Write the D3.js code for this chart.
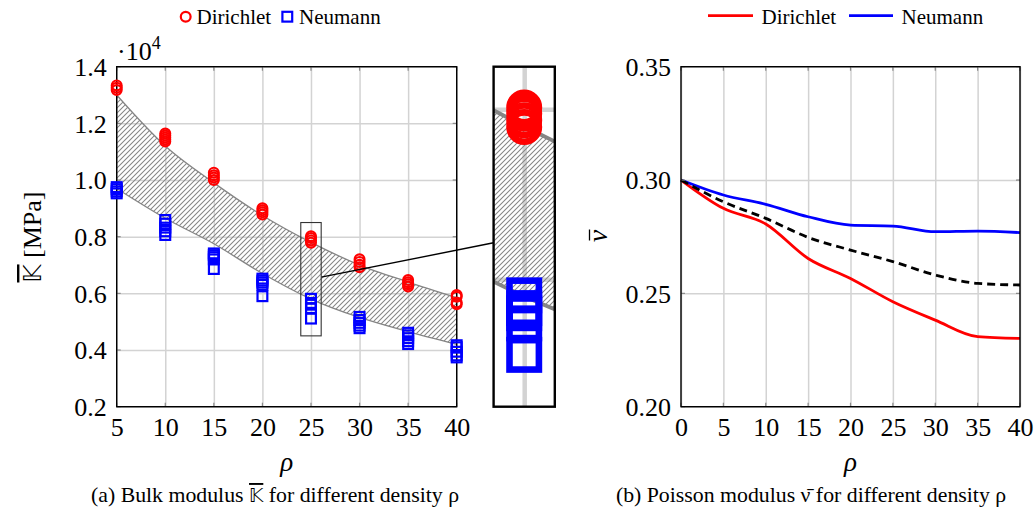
<!DOCTYPE html>
<html>
<head>
<meta charset="utf-8">
<script src="https://cdn.jsdelivr.net/npm/d3@7"></script>
<style>
  body { margin: 0; background: #fff; }
  svg { display: block; }
  text { font-family: "Liberation Serif", "Times New Roman", serif; fill: #000; }
</style>
</head>
<body>
<svg id="fig" width="1036" height="522"></svg>
<script>
// ---------- (a) bulk modulus data, values in units of 10^4 MPa ----------
const densities = [5, 10, 15, 20, 25, 30, 35, 40];
const dirichletK = [
  [1.334, 1.326, 1.318],
  [1.164, 1.157, 1.150, 1.143, 1.136],
  [1.026, 1.017, 1.009, 1.000],
  [0.900, 0.893, 0.886, 0.878],
  [0.802, 0.795, 0.787, 0.779],
  [0.720, 0.711, 0.701, 0.692],
  [0.647, 0.639, 0.632, 0.624],
  [0.594, 0.588, 0.568, 0.562]
];
const neumannK = [
  [0.975, 0.968, 0.960, 0.953],
  [0.859, 0.846, 0.832, 0.819, 0.806],
  [0.741, 0.735, 0.728, 0.720, 0.686],
  [0.652, 0.645, 0.638, 0.630, 0.590],
  [0.581, 0.566, 0.560, 0.548, 0.511],
  [0.517, 0.506, 0.496, 0.486, 0.477],
  [0.461, 0.452, 0.442, 0.431, 0.421],
  [0.417, 0.410, 0.394, 0.381, 0.374]
];
const boundUpper = [1.300, 1.120, 0.990, 0.875, 0.780, 0.700, 0.640, 0.585];
const boundLower = [0.970, 0.865, 0.775, 0.670, 0.580, 0.515, 0.465, 0.420];
const kTicks = [0.2, 0.4, 0.6, 0.8, 1.0, 1.2, 1.4];
const rhoTicksA = [5, 10, 15, 20, 25, 30, 35, 40];
// zoomed window (density range, modulus range)
const spyRho = [23.95, 26.05];
const spyK = [0.45, 0.85];
const spyZoom = 3;

// ---------- (b) Poisson ratio data ----------
const rhoNu = [0, 5, 10, 15, 20, 25, 30, 35, 40];
const nuDirichlet = [0.300, 0.2875, 0.2806, 0.2654, 0.2566, 0.2463, 0.2382, 0.2309, 0.2301];
const nuNeumann   = [0.300, 0.2934, 0.2893, 0.2838, 0.2801, 0.2797, 0.2772, 0.2775, 0.2768];
const nuMean      = [0.300, 0.2904, 0.2831, 0.2747, 0.2691, 0.2640, 0.2581, 0.2544, 0.2537];
const nuTicks = [0.20, 0.25, 0.30, 0.35];
const rhoTicksB = [0, 5, 10, 15, 20, 25, 30, 35, 40];

const RED = "#ff0000", BLUE = "#0000ff", GRID = "#d3d3d3", BANDLINE = "#858585";
const tickFont = 26, legendFont = 21;
const MW = 2.2;          // marker stroke width
const CR = 4.9;          // circle marker radius
const SQ = 9.8;          // square marker side

const svg = d3.select("#fig");
const defs = svg.append("defs");

// hatch pattern for the bounds band
const pat = defs.append("pattern").attr("id", "hatch")
  .attr("patternUnits", "userSpaceOnUse").attr("width", 5).attr("height", 5);
pat.append("path").attr("d", "M-1,1 l2,-2 M0,5 l5,-5 M4,6 l2,-2")
  .attr("stroke", BANDLINE).attr("stroke-width", 1.05);

// ---------- helpers ----------
function drawGrid(g, x, y, xt, yt, w) {
  const [x0, x1] = x.range(), [y0, y1] = y.range();
  g.append("g").attr("transform", `translate(0,${y0})`)
    .call(d3.axisBottom(x).tickValues(xt).tickSize(-(y0 - y1)).tickFormat(""))
    .call(a => a.select(".domain").remove())
    .call(a => a.selectAll("line").attr("stroke", GRID).attr("stroke-width", w));
  g.append("g").attr("transform", `translate(${x0},0)`)
    .call(d3.axisLeft(y).tickValues(yt).tickSize(-(x1 - x0)).tickFormat(""))
    .call(a => a.select(".domain").remove())
    .call(a => a.selectAll("line").attr("stroke", GRID).attr("stroke-width", w));
}

function drawFrame(g, x, y, xt, yt, xfmt, yfmt) {
  const [x0, x1] = x.range(), [y0, y1] = y.range();
  // inner tick marks on all four sides
  const tk = g.append("g").attr("stroke", "#8a8a8a").attr("stroke-width", 1.2);
  xt.forEach(v => {
    tk.append("line").attr("x1", x(v)).attr("x2", x(v)).attr("y1", y0).attr("y2", y0 - 4);
    tk.append("line").attr("x1", x(v)).attr("x2", x(v)).attr("y1", y1).attr("y2", y1 + 4);
  });
  yt.forEach(v => {
    tk.append("line").attr("y1", y(v)).attr("y2", y(v)).attr("x1", x0).attr("x2", x0 + 4);
    tk.append("line").attr("y1", y(v)).attr("y2", y(v)).attr("x1", x1).attr("x2", x1 - 4);
  });
  g.append("rect").attr("x", x0).attr("y", y1).attr("width", x1 - x0).attr("height", y0 - y1)
    .attr("fill", "none").attr("stroke", "#000").attr("stroke-width", 1.4);
  // labels
  g.append("g").attr("transform", `translate(0,${y0})`)
    .call(d3.axisBottom(x).tickValues(xt).tickSize(0).tickPadding(10).tickFormat(xfmt))
    .call(a => a.select(".domain").remove())
    .call(a => a.selectAll("text").attr("font-size", tickFont).attr("dy", "0.75em")
      .style("font-family", "'Liberation Serif', serif"));
  g.append("g").attr("transform", `translate(${x0},0)`)
    .call(d3.axisLeft(y).tickValues(yt).tickSize(0).tickPadding(10).tickFormat(yfmt))
    .call(a => a.select(".domain").remove())
    .call(a => a.selectAll("text").attr("font-size", tickFont).attr("dy", "0.34em")
      .style("font-family", "'Liberation Serif', serif"));
}

function drawBand(g, x, y, lw) {
  const pts = densities.map((d, i) => ({ d, lo: boundLower[i], hi: boundUpper[i] }));
  const curve = d3.curveMonotoneX;
  g.append("path").datum(pts)
    .attr("d", d3.area().x(p => x(p.d)).y0(p => y(p.lo)).y1(p => y(p.hi)).curve(curve))
    .attr("fill", "url(#hatch)");
  ["lo", "hi"].forEach(k => g.append("path").datum(pts)
    .attr("d", d3.line().x(p => x(p.d)).y(p => y(p[k])).curve(curve))
    .attr("fill", "none").attr("stroke", BANDLINE).attr("stroke-width", lw));
}

function drawMarkers(g, x, y, s) {
  densities.forEach((d, i) => {
    g.selectAll(null).data(neumannK[i]).join("rect")
      .attr("x", () => x(d) - SQ / 2 * s).attr("y", v => y(v) - SQ / 2 * s)
      .attr("width", SQ * s).attr("height", SQ * s)
      .attr("fill", "none").attr("stroke", BLUE).attr("stroke-width", MW * s);
  });
  densities.forEach((d, i) => {
    g.selectAll(null).data(dirichletK[i]).join("circle")
      .attr("cx", () => x(d)).attr("cy", v => y(v)).attr("r", CR * s)
      .attr("fill", "none").attr("stroke", RED).attr("stroke-width", MW * s);
  });
}

// ---------- panel (a) ----------
const xA = d3.scaleLinear().domain([5, 40]).range([116.7, 456.7]);
const yA = d3.scaleLinear().domain([0.2, 1.4]).range([406.7, 66.7]);
const gA = svg.append("g");
drawGrid(gA, xA, yA, rhoTicksA, kTicks, 1.5);
drawBand(gA, xA, yA, 1.3);
drawFrame(gA, xA, yA, rhoTicksA, kTicks, d3.format("d"), d3.format(".1f"));
drawMarkers(gA, xA, yA, 1);

// axis multiplier
const mult = gA.append("text").attr("x", 117).attr("y", 60).attr("font-size", 26);
mult.append("tspan").text("·10");
mult.append("tspan").attr("font-size", 18).attr("dy", -11).text("4");

// y label
const yl = gA.append("text").attr("transform", "translate(41,237) rotate(-90)")
  .attr("text-anchor", "middle").attr("font-size", 26);
yl.append("tspan").style("font-family", "'DejaVu Sans', sans-serif").attr("font-size", 24)
  .style("text-decoration", "overline").text("𝕂");
yl.append("tspan").text(" [MPa]");

gA.append("text").attr("x", xA(22.5)).attr("y", 471).attr("text-anchor", "middle")
  .attr("font-size", 27).attr("font-style", "italic").text("ρ");

// legend (a)
const lgA = svg.append("g");
lgA.append("circle").attr("cx", 185.7).attr("cy", 16.7).attr("r", CR)
  .attr("fill", "none").attr("stroke", RED).attr("stroke-width", MW);
lgA.append("text").attr("x", 196.5).attr("y", 23.5).attr("font-size", legendFont).text("Dirichlet");
lgA.append("rect").attr("x", 287.3 - SQ / 2).attr("y", 16.7 - SQ / 2).attr("width", SQ).attr("height", SQ)
  .attr("fill", "none").attr("stroke", BLUE).attr("stroke-width", MW);
lgA.append("text").attr("x", 299).attr("y", 23.5).attr("font-size", legendFont).text("Neumann");

// ---------- zoomed inset ----------
const spyCx = xA((spyRho[0] + spyRho[1]) / 2), spyCy = yA((spyK[0] + spyK[1]) / 2);
const spyW = xA(spyRho[1]) - xA(spyRho[0]), spyH = yA(spyK[0]) - yA(spyK[1]);
const inCx = 524.2, inCy = 236.7;
const inW = spyW * spyZoom, inH = spyH * spyZoom;
const xI = d3.scaleLinear().domain(xA.domain())
  .range(xA.range().map(v => inCx + spyZoom * (v - spyCx)));
const yI = d3.scaleLinear().domain(yA.domain())
  .range(yA.range().map(v => inCy + spyZoom * (v - spyCy)));

defs.append("clipPath").attr("id", "inclip").append("rect")
  .attr("x", inCx - inW / 2).attr("y", inCy - inH / 2).attr("width", inW).attr("height", inH);
const gI = svg.append("g");
gI.append("rect").attr("x", inCx - inW / 2).attr("y", inCy - inH / 2)
  .attr("width", inW).attr("height", inH).attr("fill", "#fff");
const gIc = gI.append("g").attr("clip-path", "url(#inclip)");
drawGrid(gIc, xI, yI, rhoTicksA, kTicks, 1.5 * spyZoom);
drawBand(gIc, xI, yI, 1.3 * spyZoom);
drawMarkers(gIc, xI, yI, spyZoom);

// connector between window and inset
const dx = inCx - spyCx, dy = inCy - spyCy;
const t0 = (spyW / 2) / dx, t1 = 1 - (inW / 2) / dx;
svg.append("line")
  .attr("x1", spyCx + dx * t0).attr("y1", spyCy + dy * t0)
  .attr("x2", spyCx + dx * t1).attr("y2", spyCy + dy * t1)
  .attr("stroke", "#000").attr("stroke-width", 1.4);
svg.append("rect").attr("x", spyCx - spyW / 2).attr("y", spyCy - spyH / 2)
  .attr("width", spyW).attr("height", spyH)
  .attr("fill", "none").attr("stroke", "#333").attr("stroke-width", 1.1);
gI.append("rect").attr("x", inCx - inW / 2).attr("y", inCy - inH / 2)
  .attr("width", inW).attr("height", inH)
  .attr("fill", "none").attr("stroke", "#000").attr("stroke-width", 2.4);

// ---------- panel (b) ----------
const xB = d3.scaleLinear().domain([0, 40]).range([681, 1020]);
const yB = d3.scaleLinear().domain([0.20, 0.35]).range([406.7, 66.7]);
const gB = svg.append("g");
drawGrid(gB, xB, yB, rhoTicksB, nuTicks, 1.5);

const lineB = d3.line().x((v, i) => xB(rhoNu[i])).y(v => yB(v)).curve(d3.curveMonotoneX);
gB.append("path").attr("d", lineB(nuDirichlet)).attr("fill", "none")
  .attr("stroke", RED).attr("stroke-width", 2.8);
gB.append("path").attr("d", lineB(nuNeumann)).attr("fill", "none")
  .attr("stroke", BLUE).attr("stroke-width", 2.8);
gB.append("path").attr("d", lineB(nuMean)).attr("fill", "none")
  .attr("stroke", "#000").attr("stroke-width", 2.8).attr("stroke-dasharray", "8,5");

drawFrame(gB, xB, yB, rhoTicksB, nuTicks, d3.format("d"), d3.format(".2f"));

// y label: italic nu with a bar
const nuLab = gB.append("g").attr("transform", "translate(607,236) rotate(-90)");
nuLab.append("text").attr("x", 0).attr("y", 0).attr("text-anchor", "middle")
  .attr("font-size", 28).attr("font-style", "italic").text("ν");
nuLab.append("line").attr("x1", -4.5).attr("x2", 6.5).attr("y1", -17.5).attr("y2", -17.5)
  .attr("stroke", "#000").attr("stroke-width", 1.3);
gB.append("text").attr("x", xB(20)).attr("y", 471).attr("text-anchor", "middle")
  .attr("font-size", 27).attr("font-style", "italic").text("ρ");

// legend (b)
const lgB = svg.append("g");
lgB.append("line").attr("x1", 708).attr("x2", 753).attr("y1", 15.7).attr("y2", 15.7)
  .attr("stroke", RED).attr("stroke-width", 2.8);
lgB.append("text").attr("x", 761.5).attr("y", 23.5).attr("font-size", legendFont).text("Dirichlet");
lgB.append("line").attr("x1", 849).attr("x2", 893).attr("y1", 15.7).attr("y2", 15.7)
  .attr("stroke", BLUE).attr("stroke-width", 2.8);
lgB.append("text").attr("x", 901.5).attr("y", 23.5).attr("font-size", legendFont).text("Neumann");

// ---------- captions ----------
const capFont = 21.8;
const capA = svg.append("text").attr("x", 275).attr("y", 502).attr("text-anchor", "middle").attr("font-size", capFont);
capA.append("tspan").text("(a)  Bulk modulus ");
capA.append("tspan").style("font-family", "'DejaVu Sans', sans-serif").attr("font-size", 19)
  .style("text-decoration", "overline").text("𝕂");
capA.append("tspan").text(" for different density ρ");

svg.append("text").attr("x", 811).attr("y", 502).attr("text-anchor", "middle").attr("font-size", capFont)
  .text("(b)  Poisson modulus ν\u0304 for different density ρ");
</script>
</body>
</html>
